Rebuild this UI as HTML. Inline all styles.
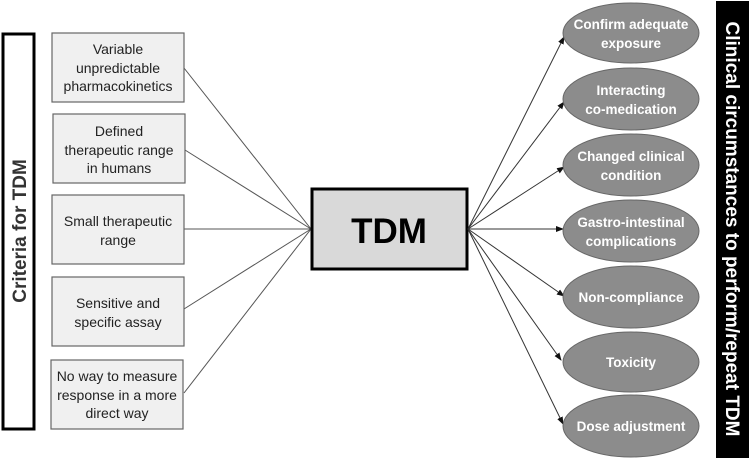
<!DOCTYPE html>
<html><head><meta charset="utf-8"><style>
html,body{margin:0;padding:0;background:#fff;}
svg{display:block;}
</style></head><body>
<svg width="750" height="460" viewBox="0 0 750 460" xmlns="http://www.w3.org/2000/svg" font-family="Liberation Sans, sans-serif">
<defs>
<marker id="a" markerWidth="8" markerHeight="8" refX="7" refY="4" orient="auto" markerUnits="userSpaceOnUse">
<path d="M0,1 L8,4 L0,7 z" fill="#111"/>
</marker>
</defs>
<!-- left bar -->
<rect x="3" y="34" width="31" height="395" fill="#fff" stroke="#000" stroke-width="3"/>
<text transform="translate(26,231) rotate(-90)" text-anchor="middle" font-size="19" font-weight="bold" fill="#333">Criteria for TDM</text>
<!-- connector lines left -->
<g stroke="#555" stroke-width="1" fill="none">
<line x1="184" y1="68" x2="311" y2="229"/>
<line x1="185" y1="150" x2="311" y2="229"/>
<line x1="184" y1="229" x2="311" y2="229"/>
<line x1="184" y1="309" x2="311" y2="229"/>
<line x1="184" y1="393" x2="311" y2="229"/>
</g>
<!-- left boxes -->
<g fill="#f0f0f0" stroke="#666" stroke-width="1.2">
<rect x="52" y="33" width="132" height="69"/>
<rect x="53" y="114" width="132" height="69"/>
<rect x="52" y="195" width="132" height="69"/>
<rect x="52" y="277" width="132" height="69"/>
<rect x="51" y="360" width="132" height="69"/>
</g>
<g font-size="14" fill="#222" text-anchor="middle">
<text x="118" y="54">Variable</text>
<text x="118" y="73">unpredictable</text>
<text x="118" y="91">pharmacokinetics</text>
<text x="119" y="136">Defined</text>
<text x="119" y="155">therapeutic range</text>
<text x="119" y="173">in humans</text>
<text x="118" y="226">Small therapeutic</text>
<text x="118" y="245">range</text>
<text x="118" y="308">Sensitive and</text>
<text x="118" y="327">specific assay</text>
<text x="117" y="381">No way to measure</text>
<text x="117" y="400">response in a more</text>
<text x="117" y="418">direct way</text>
</g>
<!-- TDM -->
<rect x="312" y="189" width="155" height="80" fill="#d9d9d9" stroke="#000" stroke-width="3"/>
<text x="389" y="243" text-anchor="middle" font-size="35" font-weight="bold" fill="#000">TDM</text>
<!-- arrows -->
<g stroke="#333" stroke-width="1" fill="none" marker-end="url(#a)">
<line x1="468" y1="229" x2="564" y2="37"/>
<line x1="468" y1="229" x2="564" y2="102"/>
<line x1="468" y1="229" x2="564" y2="167"/>
<line x1="468" y1="229" x2="563" y2="229"/>
<line x1="468" y1="229" x2="564" y2="296"/>
<line x1="468" y1="229" x2="561" y2="360"/>
<line x1="468" y1="229" x2="563" y2="424"/>
</g>
<!-- ellipses -->
<g fill="#8c8c8c" stroke="#666" stroke-width="1">
<ellipse cx="631" cy="33" rx="68" ry="30"/>
<ellipse cx="631" cy="99" rx="68" ry="31"/>
<ellipse cx="631" cy="165" rx="68" ry="31"/>
<ellipse cx="631" cy="231" rx="68" ry="31"/>
<ellipse cx="631" cy="297" rx="68" ry="31"/>
<ellipse cx="631" cy="362" rx="68" ry="30"/>
<ellipse cx="631" cy="426" rx="68" ry="31"/>
</g>
<g font-size="13.5" font-weight="bold" fill="#fff" text-anchor="middle">
<text x="631" y="29">Confirm adequate</text>
<text x="631" y="48">exposure</text>
<text x="631" y="95">Interacting</text>
<text x="631" y="114">co-medication</text>
<text x="631" y="161">Changed clinical</text>
<text x="631" y="180">condition</text>
<text x="631" y="227">Gastro-intestinal</text>
<text x="631" y="246">complications</text>
<text x="631" y="302">Non-compliance</text>
<text x="631" y="367">Toxicity</text>
<text x="631" y="431">Dose adjustment</text>
</g>
<!-- right bar -->
<rect x="716" y="1" width="33" height="457" fill="#000"/>
<text transform="translate(726,229) rotate(90)" text-anchor="middle" font-size="19" font-weight="bold" fill="#fff">Clinical circumstances to perform/repeat TDM</text>
</svg>
</body></html>
